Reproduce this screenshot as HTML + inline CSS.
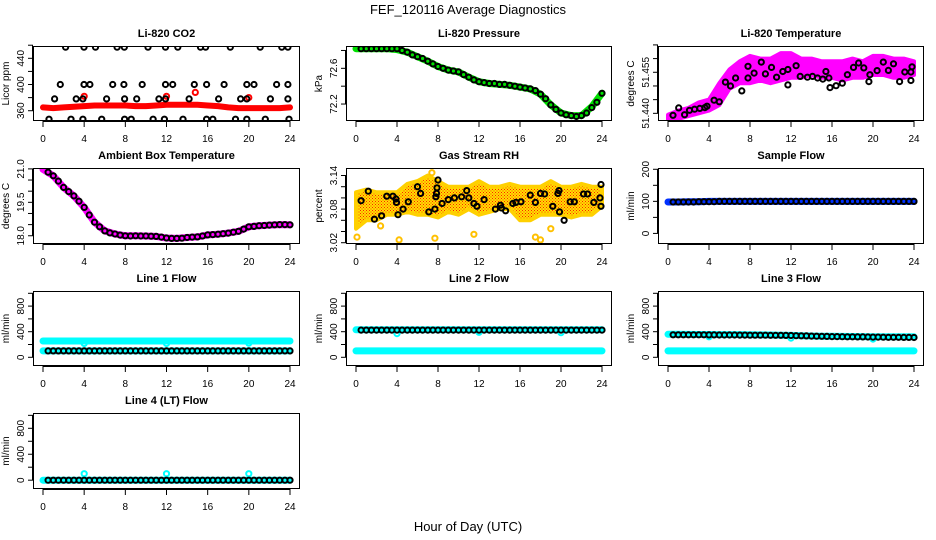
<!DOCTYPE html>
<html><head><meta charset="utf-8"><style>
html,body{margin:0;padding:0;background:#fff;}
svg{display:block;font-family:"Liberation Sans",Arial,sans-serif;}
</style></head><body>
<svg id="chart" width="936" height="540" viewBox="0 0 936 540" xmlns="http://www.w3.org/2000/svg">
<defs>
<pattern id="rhpat" width="3" height="3" patternUnits="userSpaceOnUse">
<rect width="3" height="3" fill="#ffe000"/><rect x="0" y="0" width="1" height="1" fill="#ff2000"/><rect x="1.5" y="1.5" width="1" height="1" fill="#ff3000"/>
</pattern>
</defs>
<text x="468" y="14" font-size="13" text-anchor="middle">FEF_120116  Average Diagnostics</text>
<text x="468" y="531" font-size="13" text-anchor="middle">Hour of Day (UTC)</text>
</svg>
<script>
// ---------- data ----------
const xTicks = [0,4,8,12,16,20,24];
const hours = [0,1,2,3,4,5,6,7,8,9,10,11,12,13,14,15,16,17,18,19,20,21,22,23,24];
const halfHours = [0.5,1,1.5,2,2.5,3,3.5,4,4.5,5,5.5,6,6.5,7,7.5,8,8.5,9,9.5,10,10.5,11,11.5,12,12.5,13,13.5,14,14.5,15,15.5,16,16.5,17,17.5,18,18.5,19,19.5,20,20.5,21,21.5,22,22.5,23,23.5,24];

// CO2
const co2Band = [365,364,365,366,367,368,368,368,368,367,367,368,369,369,369,369,368,367,365,364,364,364,364,364,365];
const co2RedOutX = [4.0,12.0,14.8,20.0];
const co2RedOutY = [382,382,388,380];
const co2BlackX = [2.2,3.98,5.1,7.2,7.9,10.2,11.9,13.1,15.3,15.8,18.2,21.1,23.2,23.8,
 1.68,3.98,4.56,6.77,7.86,9.64,11.9,12.6,14.7,15.9,17.6,19.8,20.5,22.7,23.8,
 1.13,3.23,3.88,6.18,7.93,9.1,11.26,11.9,14.2,17.06,19.2,19.8,22.1,23.8,
 0.58,2.72,3.88,5.7,7.93,8.57,10.7,11.8,13.6,15.9,16.5,18.7,19.8,21.6,23.9];
const co2BlackY = [457,457,457,457,457,457,457,457,457,457,457,457,457,457,
 400,400,400,400,400,400,400,400,400,400,400,400,400,400,400,
 378,378,378,378,378,378,378,378,378,378,378,378,378,378,
 347,347,347,347,347,347,347,347,347,347,347,347,347,347,347];

// Pressure
const presBand = [72.82,72.82,72.82,72.82,72.81,72.78,72.73,72.68,72.62,72.58,72.56,72.50,72.45,72.43,72.42,72.41,72.39,72.37,72.31,72.19,72.10,72.07,72.07,72.17,72.32];
const presBlack = [72.82,72.82,72.82,72.82,72.82,72.82,72.82,72.82,72.80,72.78,72.75,72.73,72.71,72.68,72.65,72.62,72.60,72.58,72.57,72.56,72.53,72.50,72.47,72.45,72.44,72.43,72.43,72.42,72.42,72.41,72.40,72.39,72.38,72.37,72.35,72.31,72.26,72.19,72.14,72.10,72.08,72.07,72.06,72.07,72.10,72.16,72.22,72.32];

// Li-820 temperature
const tempLow  = [51.4375,51.438,51.439,51.440,51.441,51.443,51.449,51.451,51.451,51.452,51.451,51.452,51.453,51.453,51.454,51.453,51.453,51.452,51.453,51.453,51.454,51.454,51.453,51.453,51.454];
const tempHigh = [51.4395,51.441,51.442,51.444,51.445,51.451,51.456,51.459,51.461,51.460,51.460,51.462,51.462,51.460,51.460,51.459,51.459,51.459,51.460,51.459,51.461,51.461,51.460,51.460,51.459];
const tempBlackX = [0.49,1.04,1.62,2.1,2.6,3.1,3.6,3.8,4.5,5.0,5.6,6.1,6.6,7.2,7.8,7.8,8.4,9.1,9.5,10.1,10.6,11.2,11.7,11.7,12.5,12.9,13.6,14.1,14.6,15.1,15.7,15.8,16.4,17.0,17.5,18.1,18.6,19.1,19.6,19.7,20.4,21.0,21.5,22.0,22.6,23.1,23.7,23.8,23.7,15.4];
const tempBlackY = [51.4393,51.4420,51.4395,51.4411,51.4415,51.4418,51.4421,51.4426,51.4448,51.4442,51.4514,51.4500,51.4529,51.4482,51.4529,51.4572,51.4547,51.4587,51.4544,51.4568,51.4532,51.4553,51.4560,51.4504,51.4574,51.4535,51.4532,51.4535,51.4529,51.4525,51.4529,51.4494,51.4501,51.4510,51.4541,51.4568,51.4584,51.4566,51.4516,51.4541,51.4556,51.4587,51.4557,51.4581,51.4516,51.4551,51.4551,51.4570,51.4520,51.4553];

// Ambient box temperature
const ambBand = [20.98,20.69,20.17,19.79,19.27,18.61,18.22,18.08,18.00,18.00,17.99,17.97,17.90,17.88,17.92,17.95,18.04,18.07,18.12,18.20,18.40,18.45,18.48,18.50,18.49];
const ambBlack = [20.85,20.69,20.45,20.17,19.98,19.79,19.55,19.27,18.93,18.61,18.40,18.22,18.13,18.08,18.03,18.00,17.99,18.00,17.99,17.99,17.98,17.97,17.94,17.90,17.88,17.88,17.89,17.92,17.94,17.95,17.99,18.04,18.05,18.07,18.09,18.12,18.16,18.20,18.30,18.40,18.42,18.45,18.46,18.48,18.49,18.50,18.50,18.49];

// Gas stream RH
const rhLow  = [3.045,3.060,3.060,3.070,3.070,3.075,3.070,3.070,3.065,3.075,3.070,3.080,3.070,3.075,3.080,3.080,3.060,3.060,3.070,3.070,3.070,3.065,3.070,3.070,3.085];
const rhHigh = [3.110,3.115,3.110,3.110,3.110,3.125,3.130,3.140,3.130,3.120,3.120,3.120,3.130,3.120,3.120,3.125,3.120,3.120,3.120,3.130,3.120,3.120,3.125,3.120,3.120];
const rhOutX = [0.1,4.2,7.7,11.5,17.5,18.0,19.0,2.4,7.4];
const rhOutY = [3.030,3.025,3.028,3.035,3.030,3.025,3.045,3.050,3.145];
const rhBlackX = [0.5,1.2,1.8,2.5,3.0,3.6,3.9,3.95,4.1,4.6,5.1,6.0,6.3,7.1,7.7,7.8,7.85,7.9,8.0,8.4,9.0,9.6,10.3,10.8,11.0,11.5,11.8,12.5,13.6,14.1,14.2,14.6,15.3,15.6,16.1,17.0,17.5,18.0,18.4,19.2,19.7,19.8,19.85,20.3,20.9,21.3,22.2,22.6,23.2,23.8,23.9,23.9];
const rhBlackY = [3.095,3.112,3.062,3.068,3.103,3.103,3.098,3.092,3.070,3.080,3.093,3.120,3.108,3.075,3.080,3.102,3.108,3.118,3.132,3.090,3.097,3.100,3.102,3.113,3.100,3.090,3.085,3.097,3.080,3.087,3.082,3.077,3.090,3.092,3.093,3.105,3.092,3.108,3.107,3.085,3.108,3.113,3.075,3.060,3.093,3.093,3.107,3.107,3.092,3.100,3.085,3.124];

// Sample flow
const sampBand = [98,98,99,99,100,100,100,100,100,100,100,100,100,100,100,100,100,100,100,100,100,100,100,100,100];
const sampBlack = [98,98,98,98,98,99,99,99,99,100,100,100,100,100,100,100,100,100,100,100,100,100,100,100,100,100,100,100,100,100,100,100,100,100,100,100,100,100,100,100,100,100,100,100,100,100,100,100];

// Line 1 flow
const l1CyanHi = [255,255,255,255,255,255,255,255,255,255,255,255,255,255,255,255,255,255,255,255,255,255,255,255,255];
const l1CyanLo = [100,100,100,100,100,100,100,100,100,100,100,100,100,100,100,100,100,100,100,100,100,100,100,100,100];
const l1DipX = [4,12,20];
const l1DipY = [215,215,220];
const l1Black = [100,100,100,100,100,100,100,100,100,100,100,100,100,100,100,100,100,100,100,100,100,100,100,100,100,100,100,100,100,100,100,100,100,100,100,100,100,100,100,100,100,100,100,100,100,100,100,100];

// Line 2 flow
const l2CyanHi = [430,430,430,430,430,430,430,430,430,430,430,430,430,430,430,430,430,430,430,430,430,430,430,430,430];
const l2CyanLo = [100,100,100,100,100,100,100,100,100,100,100,100,100,100,100,100,100,100,100,100,100,100,100,100,100];
const l2DipX = [4,12,20];
const l2DipY = [370,390,385];
const l2Black = [425,425,425,425,425,425,425,425,425,425,425,425,425,425,425,425,425,425,425,425,425,425,425,425,425,425,425,425,425,425,425,425,425,425,425,425,425,425,425,425,425,425,425,425,425,425,425,425];

// Line 3 flow
const l3CyanHi = [360,360,358,357,356,355,355,354,352,350,348,345,342,338,333,330,328,326,325,323,322,321,320,320,320];
const l3CyanLo = [100,100,100,100,100,100,100,100,100,100,100,100,100,100,100,100,100,100,100,100,100,100,100,100,100];
const l3DipX = [4,12,20];
const l3DipY = [320,300,285];
const l3Black = [352,352,352,352,352,351,351,350,350,349,349,348,348,347,347,346,346,345,345,344,344,343,342,341,338,336,334,332,330,328,326,324,323,322,321,320,319,318,317,316,315,314,313,312,312,311,311,310];

// Line 4 flow
const l4Cyan = [0,0,0,0,0,0,0,0,0,0,0,0,0,0,0,0,0,0,0,0,0,0,0,0,0];
const l4SpikeX = [4,12,20];
const l4SpikeY = [100,100,100];
const l4Black = [0,0,0,0,0,0,0,0,0,0,0,0,0,0,0,0,0,0,0,0,0,0,0,0,0,0,0,0,0,0,0,0,0,0,0,0,0,0,0,0,0,0,0,0,0,0,0,0];

// ---------- layout ----------
const NS = "http://www.w3.org/2000/svg";
const svg = document.getElementById('chart');
const COLS = [[33,300],[346,612],[658,924]];
const ROWS = [[46,121],[168,244],[291,366],[413,489]];

function mk(tag, attrs, parent){
  const e = document.createElementNS(NS, tag);
  for (const k in attrs) e.setAttribute(k, attrs[k]);
  (parent||svg).appendChild(e);
  return e;
}

function makePanel(col,row,ymin,ymax,title,ytitle,yTicks,yLabels,name){
  const [x0,x1] = COLS[col], [y0,y1] = ROWS[row];
  const g = mk('g',{});
  
  
  const p = {
    g,
    sx: h => x0 + 10 + h*(x1-x0-20)/24,
    sy: v => y0 + (ymax - v)/(ymax-ymin)*(y1-y0)
  };
  const plot = mk('g',{'clip-path':'url(#clip-'+name+')'},g);
  const cp = mk('clipPath',{id:'clip-'+name},g);
  mk('rect',{x:x0,y:y0,width:x1-x0,height:y1-y0},cp);
  p.plot = plot;
  const t = mk('text',{x:(x0+x1)/2,y:y0-9,'font-size':11,'font-weight':'bold','text-anchor':'middle'},g);
  t.textContent = title;
  
  
  const yt = mk('text',{x:0,y:0,'font-size':10,'text-anchor':'middle',transform:`translate(${x0-24},${(y0+y1)/2}) rotate(-90)`},g);
  yt.textContent = ytitle;
  
  
  const xa = mk('g',{stroke:'#000','stroke-width':1},g);
  
  
  mk('line',{x1:p.sx(xTicks[0]),x2:p.sx(xTicks[xTicks.length-1]),y1:y1+0.5,y2:y1+0.5},xa);
  xTicks.forEach(v=>{
    mk('line',{x1:p.sx(v),x2:p.sx(v),y1:y1,y2:y1+6},xa);
    const tl = mk('text',{x:p.sx(v),y:y1+21,'font-size':10,'text-anchor':'middle',stroke:'none'},g);
    tl.textContent = v;
    
    
  });
  const ya = mk('g',{stroke:'#000','stroke-width':1},g);
  
  
  mk('line',{x1:x0-0.5,x2:x0-0.5,y1:p.sy(yTicks[0]),y2:p.sy(yTicks[yTicks.length-1])},ya);
  yTicks.forEach(v=>{
    mk('line',{x1:x0-5,x2:x0,y1:p.sy(v),y2:p.sy(v)},ya);
  });
  yLabels.forEach(([v,s])=>{
    const tl = mk('text',{x:0,y:0,'font-size':10,'text-anchor':'middle',transform:`translate(${x0-9},${p.sy(v)}) rotate(-90)`},g);
    tl.textContent = s;
    
    
  });
  const box = mk('rect',{x:x0+0.5,y:y0+0.5,width:x1-x0-1,height:y1-y0-1,fill:'none',stroke:'#000','stroke-width':1},g);
  
  
  return p;
}

function band(p,xs,ys,color,w,name){
  const pts = xs.map((x,i)=>p.sx(x).toFixed(1)+','+p.sy(ys[i]).toFixed(1)).join(' ');
  const e = mk('polyline',{points:pts,fill:'none',stroke:color,'stroke-width':w,'stroke-linecap':'round','stroke-linejoin':'round'},p.plot);
  
  
}
function envelope(p,xs,lo,hi,fill,stroke,name){
  const a = xs.map((x,i)=>p.sx(x).toFixed(1)+','+p.sy(hi[i]).toFixed(1));
  const b = xs.map((x,i)=>p.sx(x).toFixed(1)+','+p.sy(lo[i]).toFixed(1)).reverse();
  const e = mk('polygon',{points:a.concat(b).join(' '),fill:fill,stroke:stroke,'stroke-width':4,'stroke-linejoin':'round'},p.plot);
  
  
}
function pts(p,xs,ys,color,name,r){
  const g = mk('g',{fill:'none',stroke:color,'stroke-width':2},p.plot);
  
  
  xs.forEach((x,i)=>{
    const c = mk('circle',{cx:p.sx(x).toFixed(1),cy:p.sy(ys[i]).toFixed(1),r:r||2.6},g);
    
    
  });
}

let p = makePanel(0,0,344.3,458.8,'Li-820 CO2','Licor ppm',[360,380,400,420,440,460],[[360,'360'],[400,'400'],[440,'440']],'co2-panel');
band(p,hours,co2Band,'#ff0000',6,'co2-band');
pts(p,co2RedOutX,co2RedOutY,'#ff0000','co2-red-outlier');
pts(p,co2BlackX,co2BlackY,'#000','co2-black');

p = makePanel(1,0,72.01,72.85,'Li-820 Pressure','kPa',[72.2,72.4,72.6,72.8],[[72.2,'72.2'],[72.6,'72.6']],'pressure-panel');
band(p,hours,presBand,'#00e000',7,'pressure-band');
pts(p,halfHours,presBlack,'#000','pressure-black');

p = makePanel(2,0,51.4372,51.4646,'Li-820 Temperature','degrees C',[51.440,51.445,51.450,51.455,51.460,51.465],[[51.440,'51.440'],[51.455,'51.455']],'temperature-panel');
envelope(p,hours,tempLow,tempHigh,'#ff00ff','#ff00ff','temperature-envelope');
pts(p,tempBlackX,tempBlackY,'#000','temperature-black');

p = makePanel(0,1,17.63,21.04,'Ambient Box Temperature','degrees C',[18.0,18.5,19.0,19.5,20.0,20.5,21.0],[[18.0,'18.0'],[19.5,'19.5'],[21.0,'21.0']],'ambient-panel');
band(p,hours,ambBand,'#ff00ff',7,'ambient-band');
pts(p,halfHours,ambBlack,'#000','ambient-black');

p = makePanel(1,1,3.0177,3.1534,'Gas Stream RH','percent',[3.02,3.04,3.06,3.08,3.10,3.12,3.14],[[3.02,'3.02'],[3.08,'3.08'],[3.14,'3.14']],'rh-panel');
envelope(p,hours,rhLow,rhHigh,'url(#rhpat)','#ffd000','rh-envelope');
pts(p,rhOutX,rhOutY,'#ffc000','rh-outlier');
pts(p,rhBlackX,rhBlackY,'#000','rh-black');

p = makePanel(2,1,-33,204,'Sample Flow','ml/min',[0,50,100,150,200],[[0,'0'],[100,'100'],[200,'200']],'sample-flow-panel');
band(p,hours,sampBand,'#0030ff',7,'sample-band');
pts(p,halfHours,sampBlack,'#000','sample-black');

const flowTicks = [0,200,400,600,800,1000];
const flowLabels = [[0,'0'],[400,'400'],[800,'800']];
p = makePanel(0,2,-136,1036,'Line 1 Flow','ml/min',flowTicks,flowLabels,'line1-panel');
band(p,hours,l1CyanHi,'#00ffff',7,'line1-cyan-high');
band(p,hours,l1CyanLo,'#00ffff',7,'line1-cyan-low');
pts(p,l1DipX,l1DipY,'#00ffff','line1-dip');
pts(p,halfHours,l1Black,'#000','line1-black');
p = makePanel(1,2,-136,1036,'Line 2 Flow','ml/min',flowTicks,flowLabels,'line2-panel');
band(p,hours,l2CyanHi,'#00ffff',7,'line2-cyan-high');
band(p,hours,l2CyanLo,'#00ffff',7,'line2-cyan-low');
pts(p,l2DipX,l2DipY,'#00ffff','line2-dip');
pts(p,halfHours,l2Black,'#000','line2-black');
p = makePanel(2,2,-136,1036,'Line 3 Flow','ml/min',flowTicks,flowLabels,'line3-panel');
band(p,hours,l3CyanHi,'#00ffff',7,'line3-cyan-high');
band(p,hours,l3CyanLo,'#00ffff',7,'line3-cyan-low');
pts(p,l3DipX,l3DipY,'#00ffff','line3-dip');
pts(p,halfHours,l3Black,'#000','line3-black');
p = makePanel(0,3,-136,1036,'Line 4 (LT) Flow','ml/min',flowTicks,flowLabels,'line4-panel');
band(p,hours,l4Cyan,'#00ffff',7,'line4-cyan');
pts(p,l4SpikeX,l4SpikeY,'#00ffff','line4-spike');
pts(p,halfHours,l4Black,'#000','line4-black');
</script>
</body></html>
